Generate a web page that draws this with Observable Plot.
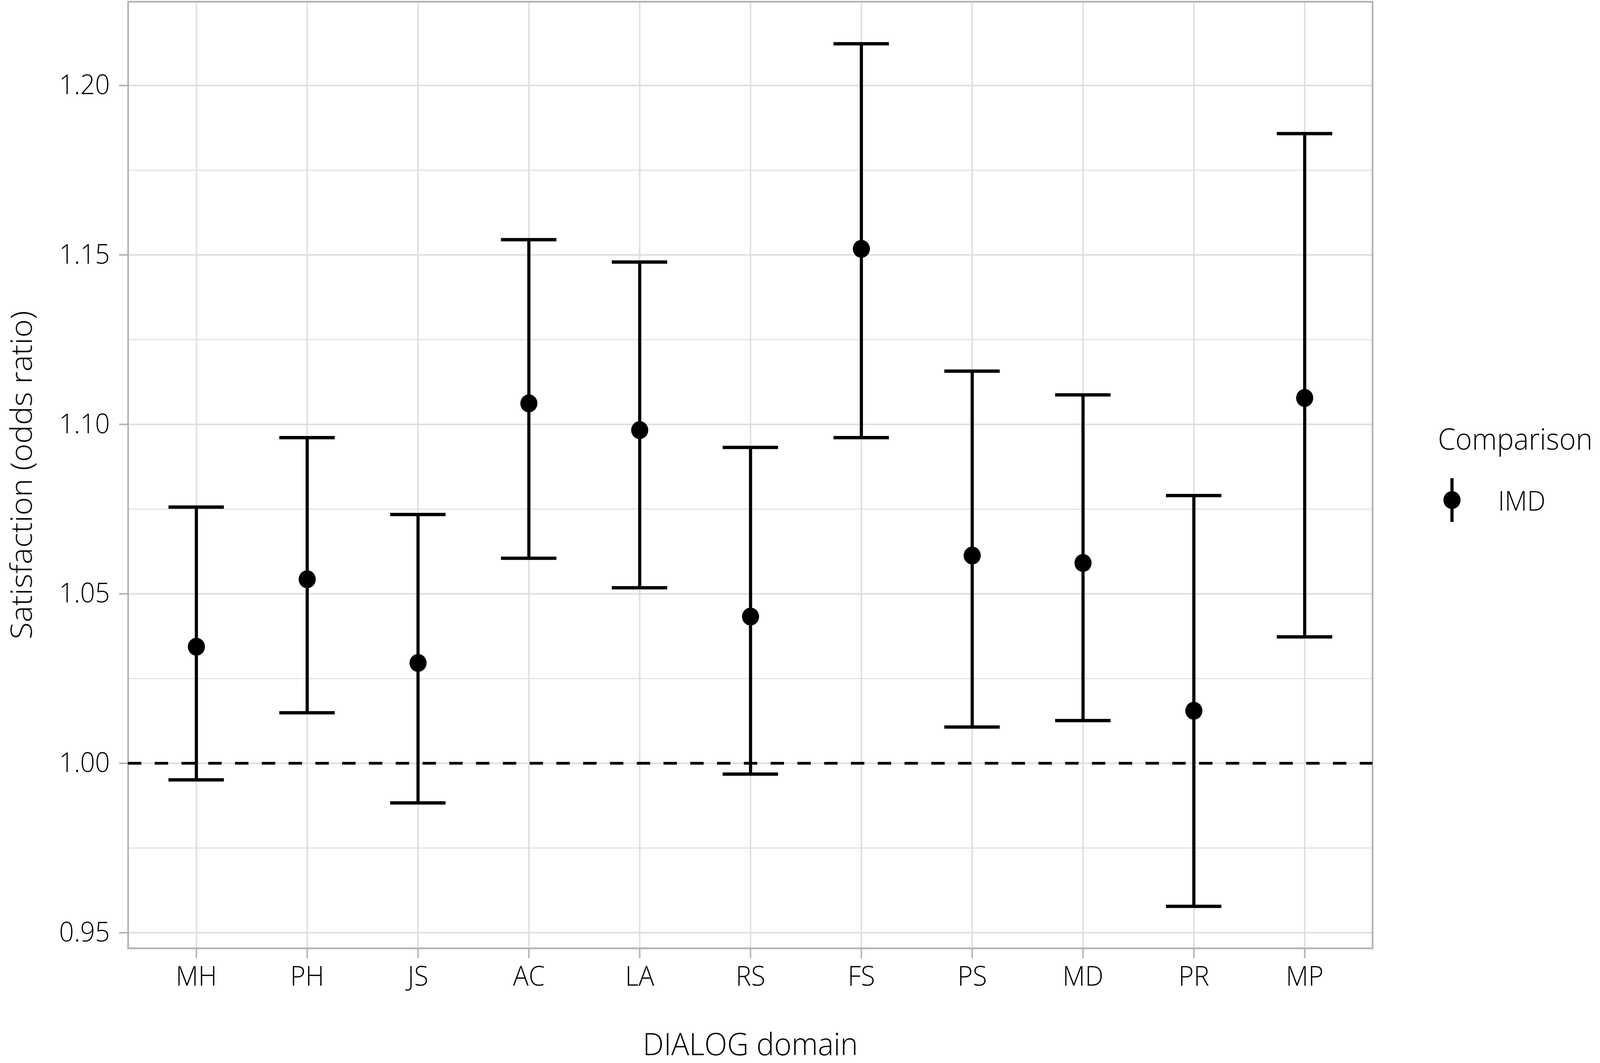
<!DOCTYPE html>
<html><head><meta charset="utf-8">
<script src="https://cdn.jsdelivr.net/npm/d3@7"></script>
<script src="https://cdn.jsdelivr.net/npm/@observablehq/plot@0.6"></script>
<style>
html,body{margin:0;padding:0;background:#fff;overflow:hidden;}
#wrap{position:relative;width:4302px;height:2721px;font-family:"Open Sans",sans-serif;font-weight:300;color:#000;transform-origin:0 0;}
#wrap svg{display:block;}
#legend{position:absolute;left:3866px;top:1084px;white-space:nowrap;}
#legend .title{font-size:76px;line-height:1;}
#legend .row{display:flex;align-items:center;margin-top:64px;}
#legend .row span{font-size:70px;margin-left:86px;line-height:1;}
</style></head><body>
<div id="wrap"><div id="legend"></div></div>
<script>
// DIALOG domains (x categories)
const domains = ["MH","PH","JS","AC","LA","RS","FS","PS","MD","PR","MP"];
// odds ratio estimates and 95% CI
const estimate = [1.0344,1.0543,1.0296,1.1062,1.0983,1.0433,1.1518,1.0613,1.0591,1.0155,1.1078];
const lower    = [0.9951,1.0149,0.9883,1.0605,1.0518,0.9968,1.0961,1.0107,1.0126,0.9578,1.0373];
const upper    = [1.0756,1.0961,1.0734,1.1545,1.1479,1.0932,1.2123,1.1157,1.1087,1.0790,1.1858];
// axis ticks
const yTicks = [0.95,1.00,1.05,1.10,1.15,1.20];
const yMinorTicks = [0.975,1.025,1.075,1.125,1.175];
const referenceLine = [1];
const comparisonName = "IMD";

const data = domains.map((d,i)=>({domain:d, est:estimate[i], lo:lower[i], hi:upper[i], comparison:comparisonName}));

const chart = Plot.plot({
  width:4302, height:2721,
  marginLeft:344, marginRight:612, marginTop:4, marginBottom:294,
  style:{fontFamily:'"Open Sans",sans-serif', fontWeight:300, fontSize:"70px", background:"white", color:"black", overflow:"visible"},
  x:{type:"band", domain:domains, paddingInner:0.5, paddingOuter:0.35},
  y:{domain:[0.9454,1.2247]},
  marks:[
    Plot.gridY(yMinorTicks,{stroke:"#dedede", strokeOpacity:1, strokeWidth:2.5}),
    Plot.gridY(yTicks,{stroke:"#dedede", strokeOpacity:1, strokeWidth:4}),
    Plot.gridX({stroke:"#dedede", strokeOpacity:1, strokeWidth:4}),
    Plot.frame({stroke:"#b3b3b3", strokeWidth:4.5}),
    Plot.axisY(yTicks,{tickFormat:d3.format(".2f"), tickSize:24, tickPadding:25, stroke:"#b3b3b3", strokeWidth:4, fill:"black",
      label:"Satisfaction (odds ratio)", labelAnchor:"center", labelArrow:"none", labelOffset:316}),
    Plot.axisX({tickSize:26, tickPadding:20, stroke:"#b3b3b3", strokeWidth:4, fill:"black",
      label:"DIALOG domain", labelAnchor:"center", labelArrow:"none", labelOffset:273}),
    Plot.ruleY(referenceLine,{stroke:"black", strokeWidth:7, strokeDasharray:"36,36"}),
    Plot.ruleX(data,{x:"domain", y1:"lo", y2:"hi", stroke:"black", strokeWidth:8.5}),
    Plot.tickY(data,{x:"domain", y:"lo", stroke:"black", strokeWidth:8.5}),
    Plot.tickY(data,{x:"domain", y:"hi", stroke:"black", strokeWidth:8.5}),
    Plot.dot(data,{x:"domain", y:"est", r:23, fill:"black", stroke:"none"})
  ]
});
chart.querySelectorAll('g[aria-label="y-axis label"], g[aria-label="x-axis label"]').forEach(g=>g.setAttribute("font-size","80"));
const wrap = document.getElementById("wrap");
wrap.prepend(chart);

// legend
const lg = document.getElementById("legend");
const t = document.createElement("div"); t.className="title"; t.textContent="Comparison"; lg.appendChild(t);
const row = document.createElement("div"); row.className="row";
const ns="http://www.w3.org/2000/svg";
const key = document.createElementNS(ns,"svg"); key.setAttribute("width","76"); key.setAttribute("height","112");
const ln = document.createElementNS(ns,"line");
ln.setAttribute("x1","38");ln.setAttribute("x2","38");ln.setAttribute("y1","0");ln.setAttribute("y2","112");
ln.setAttribute("stroke","black");ln.setAttribute("stroke-width","8.5");
const c = document.createElementNS(ns,"circle"); c.setAttribute("cx","38"); c.setAttribute("cy","56"); c.setAttribute("r","23");
key.appendChild(ln); key.appendChild(c); row.appendChild(key);
const lab = document.createElement("span"); lab.textContent=comparisonName; row.appendChild(lab);
lg.appendChild(row);

// fit the 4302-wide design into the actual viewport width
const sx = Math.min(1, (document.documentElement.clientWidth || 4302) / 4302);
const sy = Math.min(1, (window.innerHeight || 2721) / 2721);
wrap.style.transform = `scale(${sx}, ${sy})`;
</script>
</body></html>
